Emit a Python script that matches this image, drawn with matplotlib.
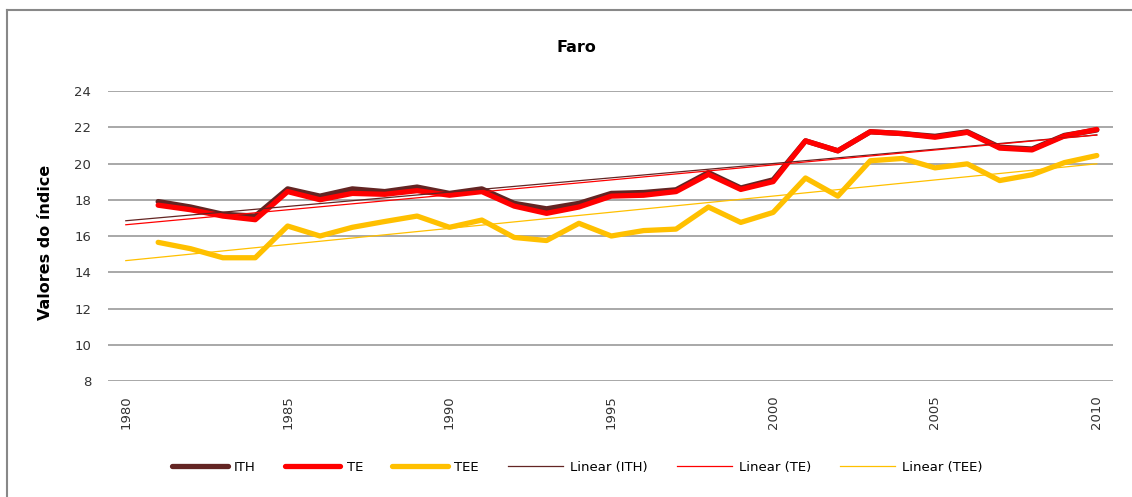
import numpy as np
import matplotlib
matplotlib.use('Agg')
import matplotlib.pyplot as plt
from matplotlib.lines import Line2D

# Faro: yearly index values 1981-2010
years = list(range(1981, 2011))
ith = [17.9, 17.6, 17.2, 17.1, 18.6, 18.2, 18.6, 18.45, 18.7, 18.35,
       18.6, 17.8, 17.5, 17.8, 18.35, 18.4, 18.55, 19.5, 18.65, 19.1,
       21.25, 20.7, 21.75, 21.65, 21.5, 21.75, 20.9, 20.8, 21.55, 21.85]
te = [17.7, 17.45, 17.1, 16.9, 18.45, 18.0, 18.35, 18.3, 18.5, 18.25,
      18.45, 17.65, 17.25, 17.6, 18.2, 18.25, 18.45, 19.4, 18.57, 19.0,
      21.25, 20.7, 21.75, 21.65, 21.45, 21.72, 20.85, 20.75, 21.52, 21.88]
tee = [15.65, 15.3, 14.8, 14.8, 16.55, 16.0, 16.48, 16.8, 17.1, 16.48,
       16.88, 15.92, 15.75, 16.7, 16.0, 16.3, 16.38, 17.6, 16.75, 17.3,
       19.2, 18.2, 20.15, 20.28, 19.76, 19.98, 19.06, 19.38, 20.05, 20.44]

xticks = [1980, 1985, 1990, 1995, 2000, 2005, 2010]
yticks = [8, 10, 12, 14, 16, 18, 20, 22, 24]

c_ith = '#632523'
c_te = '#ff0000'
c_tee = '#ffc000'

fig = plt.figure(figsize=(11.32, 4.97), dpi=100)
ax = fig.add_axes([0.0954, 0.2334, 0.8878, 0.5835])

ax.plot(years, ith, color=c_ith, lw=3.8, solid_capstyle='round', solid_joinstyle='round', label='ITH')
ax.plot(years, te, color=c_te, lw=3.8, solid_capstyle='round', solid_joinstyle='round', label='TE')
ax.plot(years, tee, color=c_tee, lw=3.8, solid_capstyle='round', solid_joinstyle='round', label='TEE')

# linear trend lines (Excel style, extended back one period)
xt = np.array([1980, 2010])
for vals, col, name in [(ith, c_ith, 'Linear (ITH)'), (te, c_te, 'Linear (TE)'), (tee, c_tee, 'Linear (TEE)')]:
    k, b = np.polyfit(years, vals, 1)
    ax.plot(xt, k * xt + b, color=col, lw=0.9, label=name)

ax.set_xlim(1979.45, 2010.5)
ax.set_ylim(8, 24)
ax.set_xticks(xticks)
ax.set_yticks(yticks)
ax.tick_params(axis='x', length=0, pad=10, labelsize=9.5, rotation=90, colors='#333333')
ax.tick_params(axis='y', length=0, pad=12, labelsize=9.5, colors='#333333')
ax.grid(axis='y', color='#aaaaaa', lw=1.44)
ax.set_axisbelow(True)
for s in ax.spines.values():
    s.set_visible(False)

fig.text(0.509, 0.905, 'Faro', ha='center', va='center', fontsize=11.5, fontweight='bold')
fig.text(0.040, 0.513, 'Valores do índice', ha='center', va='center', rotation=90,
         fontsize=11.5, fontweight='bold')

fig.legend(loc='center', bbox_to_anchor=(0.51, 0.06), ncol=6, frameon=False,
           fontsize=9.5, handlelength=4.2, handletextpad=0.5, columnspacing=2.2)

# chart border
fig.add_artist(Line2D([7 / 1132, 1.0], [1 - 10 / 497, 1 - 10 / 497], color='#888888', lw=1.5,
                      transform=fig.transFigure))
fig.add_artist(Line2D([7 / 1132, 7 / 1132], [0.0, 1 - 10 / 497], color='#888888', lw=1.5,
                      transform=fig.transFigure))

fig.savefig('out.png', dpi=100)
